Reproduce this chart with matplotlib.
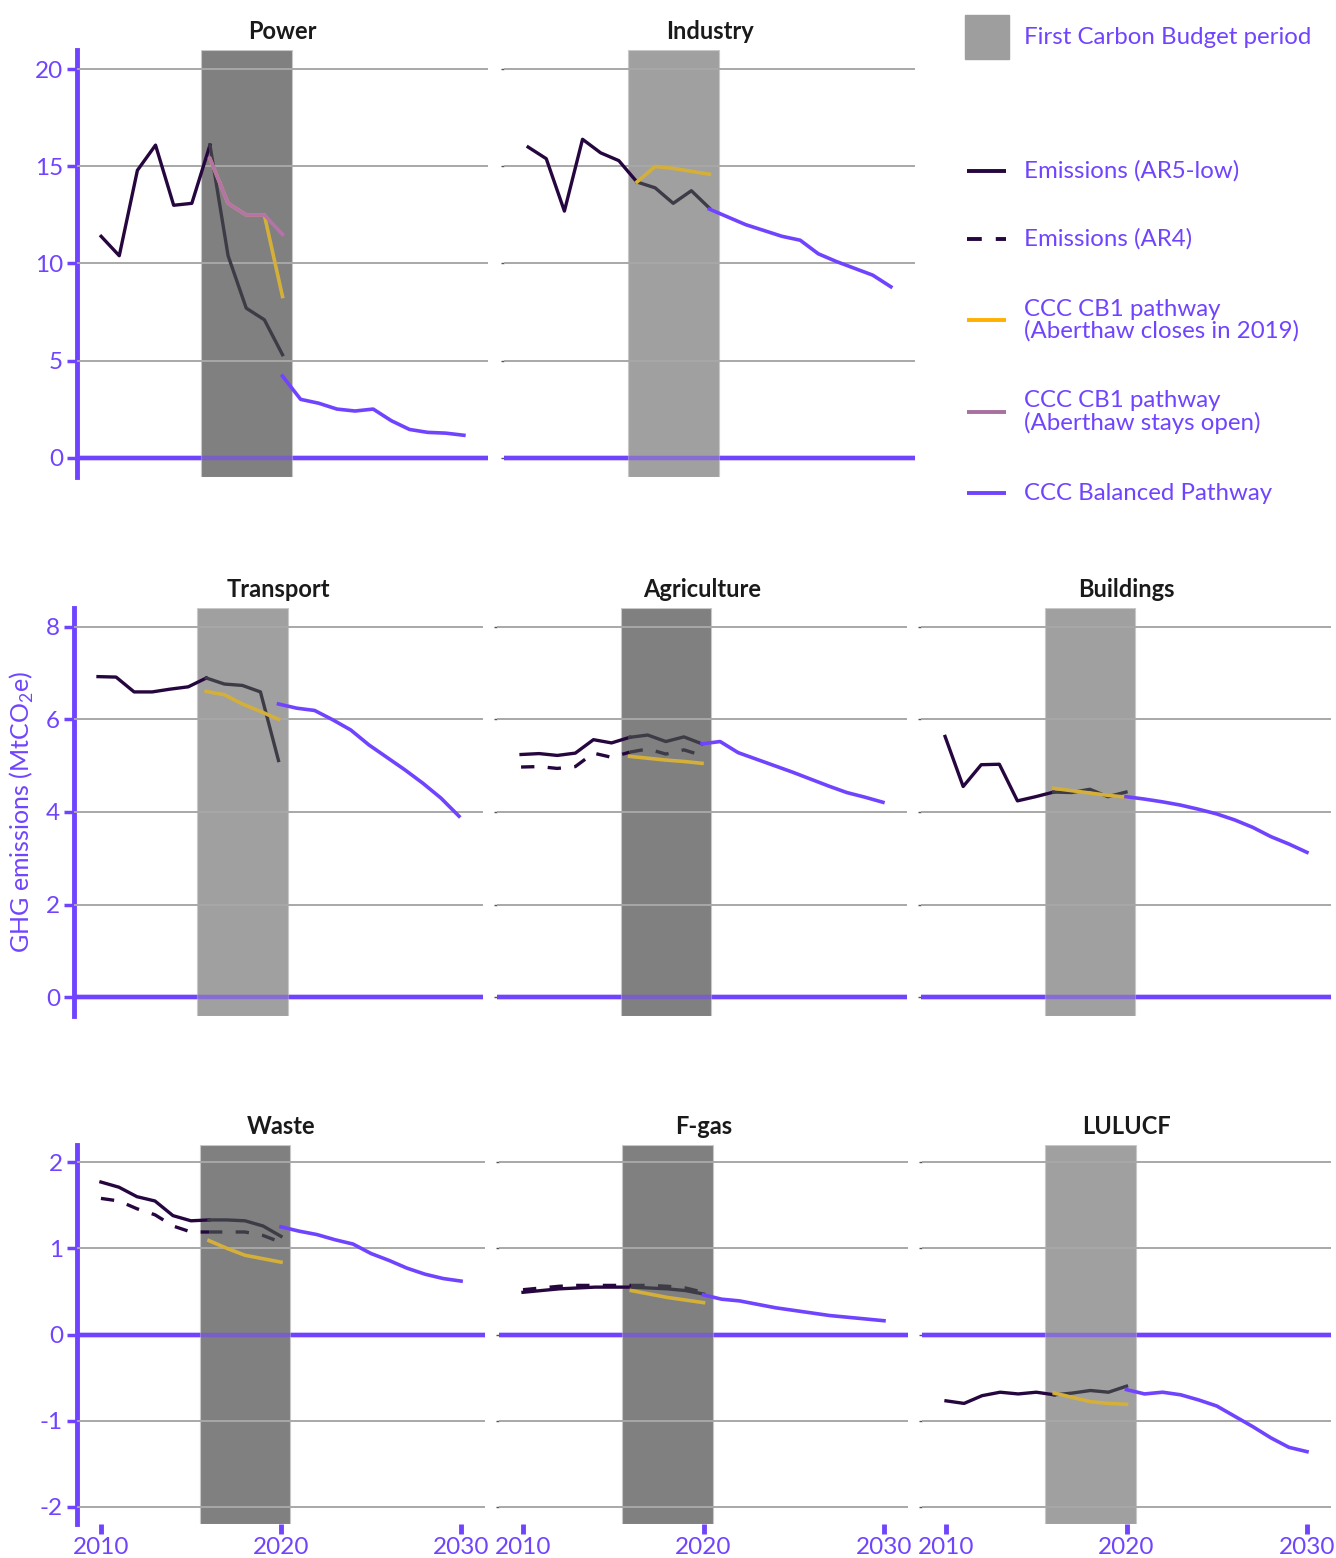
import matplotlib
matplotlib.use("Agg")
import matplotlib.pyplot as plt

plt.rcParams['font.family'] = ['Lato', 'DejaVu Sans']
plt.rcParams['mathtext.fontset'] = 'custom'
plt.rcParams['mathtext.rm'] = 'Lato'
plt.rcParams['axes.unicode_minus'] = False

# years
years_hist = list(range(2010, 2021))
years_cb1 = list(range(2016, 2021))
years_bp = list(range(2020, 2031))

# Power
power_ar5 = [11.4, 10.4, 14.8, 16.1, 13.0, 13.1, 16.1, 10.4, 7.7, 7.1, 5.3]
power_cb1_close = [15.4, 13.1, 12.5, 12.5, 8.3]
power_cb1_open = [15.4, 13.1, 12.5, 12.5, 11.5]
power_bp = [4.2, 3.0, 2.8, 2.5, 2.4, 2.5, 1.9, 1.45, 1.3, 1.26, 1.15]

# Industry
industry_ar5 = [16.0, 15.4, 12.7, 16.4, 15.7, 15.3, 14.2, 13.9, 13.1, 13.75, 12.85]
industry_cb1 = [14.2, 15.0, 14.9, 14.75, 14.6]
industry_bp = [12.8, 12.4, 12.0, 11.7, 11.4, 11.2, 10.5, 10.1, 9.75, 9.4, 8.8]

# Transport
transport_ar5 = [6.92, 6.91, 6.59, 6.59, 6.65, 6.70, 6.89, 6.76, 6.73, 6.59, 5.11]
transport_cb1 = [6.6, 6.53, 6.33, 6.17, 6.0]
transport_bp = [6.33, 6.24, 6.19, 5.99, 5.77, 5.45, 5.18, 4.91, 4.62, 4.30, 3.91]

# Agriculture
agriculture_ar5 = [5.24, 5.26, 5.22, 5.27, 5.56, 5.49, 5.61, 5.66, 5.52, 5.62, 5.47]
agriculture_ar4 = [4.97, 4.98, 4.94, 4.98, 5.27, 5.18, 5.29, 5.36, 5.25, 5.34, 5.22]
agriculture_cb1 = [5.2, 5.16, 5.12, 5.09, 5.05]
agriculture_bp = [5.47, 5.52, 5.28, 5.14, 5.0, 4.86, 4.71, 4.56, 4.42, 4.32, 4.21]

# Buildings
buildings_ar5 = [5.63, 4.55, 5.02, 5.03, 4.24, 4.33, 4.43, 4.42, 4.49, 4.33, 4.43]
buildings_cb1 = [4.51, 4.46, 4.41, 4.36, 4.32]
buildings_bp = [4.33, 4.28, 4.22, 4.15, 4.06, 3.96, 3.83, 3.67, 3.47, 3.31, 3.13]

# Waste
waste_ar5 = [1.77, 1.71, 1.60, 1.55, 1.38, 1.32, 1.33, 1.33, 1.32, 1.26, 1.14]
waste_ar4 = [1.58, 1.55, 1.46, 1.39, 1.26, 1.19, 1.19, 1.19, 1.19, 1.15, 1.07]
waste_cb1 = [1.09, 1.00, 0.92, 0.88, 0.84]
waste_bp = [1.25, 1.20, 1.16, 1.10, 1.05, 0.94, 0.86, 0.77, 0.70, 0.65, 0.62]

# F-gas
fgas_ar5 = [0.49, 0.51, 0.53, 0.54, 0.55, 0.55, 0.55, 0.54, 0.53, 0.51, 0.47]
fgas_ar4 = [0.52, 0.54, 0.56, 0.57, 0.57, 0.57, 0.57, 0.57, 0.56, 0.54, 0.49]
fgas_cb1 = [0.51, 0.47, 0.43, 0.40, 0.37]
fgas_bp = [0.46, 0.41, 0.39, 0.35, 0.31, 0.28, 0.25, 0.22, 0.20, 0.18, 0.16]

# LULUCF
lulucf_ar5 = [-0.77, -0.80, -0.71, -0.67, -0.69, -0.67, -0.70, -0.68, -0.65, -0.67, -0.60]
lulucf_cb1 = [-0.68, -0.73, -0.78, -0.80, -0.81]
lulucf_bp = [-0.64, -0.69, -0.67, -0.70, -0.76, -0.83, -0.95, -1.07, -1.20, -1.31, -1.36]

row_yticks = [[0, 5, 10, 15, 20], [0, 2, 4, 6, 8], [-2, -1, 0, 1, 2]]
row_ylim = [(-1.0, 21.0), (-0.4, 8.4), (-2.2, 2.2)]
xticks = [2010, 2020, 2030]

PURPLE = '#7044ff'
AR5_COL = '#26063f'
EM_GREY = '#3d3b45'
YELLOW = '#d4b03a'
PINK = '#b574a8'
DARK_SHADE = '#808080'
LIGHT_SHADE = '#a0a0a0'

W, H = 1336, 1558
fig = plt.figure(figsize=(W / 100, H / 100), dpi=100)


def px_axes(x0, x1, y0, y1):
    return fig.add_axes([x0 / W, 1 - y1 / H, (x1 - x0) / W, (y1 - y0) / H])


rows_y = [(50, 477), (608, 1016), (1145, 1524)]
cols_x = [[(77, 488), (504, 915)],
          [(74, 483), (497, 907), (921, 1331)],
          [(77, 485), (499, 908), (922, 1331)]]

panels = [
    ("Power", 0, 0, DARK_SHADE, power_ar5, None, [power_cb1_close], power_cb1_open, power_bp),
    ("Industry", 0, 1, LIGHT_SHADE, industry_ar5, None, [industry_cb1], None, industry_bp),
    ("Transport", 1, 0, LIGHT_SHADE, transport_ar5, None, [transport_cb1], None, transport_bp),
    ("Agriculture", 1, 1, DARK_SHADE, agriculture_ar5, agriculture_ar4, [agriculture_cb1], None, agriculture_bp),
    ("Buildings", 1, 2, LIGHT_SHADE, buildings_ar5, None, [buildings_cb1], None, buildings_bp),
    ("Waste", 2, 0, DARK_SHADE, waste_ar5, waste_ar4, [waste_cb1], None, waste_bp),
    ("F-gas", 2, 1, DARK_SHADE, fgas_ar5, fgas_ar4, [fgas_cb1], None, fgas_bp),
    ("LULUCF", 2, 2, LIGHT_SHADE, lulucf_ar5, None, [lulucf_cb1], None, lulucf_bp),
]

for name, r, c, shade, ar5, ar4, cb1s, cb1_open, bp in panels:
    x0, x1 = cols_x[r][c]
    y0, y1 = rows_y[r]
    ax = px_axes(x0, x1, y0, y1)
    ax.set_xlim(2008.67, 2031.33)
    ax.set_ylim(*row_ylim[r])
    for t in row_yticks[r]:
        if t == 0:
            ax.axhline(0, color=PURPLE, lw=3.2, zorder=1)
        else:
            ax.axhline(t, color='#a8a8a8', lw=1.4, zorder=3)
    ax.axvspan(2015.5, 2020.5, color=shade, zorder=2, lw=0.8, ec='#c8c8c8')
    ax.axhline(0, color=PURPLE, lw=3.2, alpha=0.55, zorder=3)

    # emissions: solid before CB1, grey within CB1
    ax.plot(years_hist[:7], ar5[:7], color=AR5_COL, lw=2.4, zorder=5)
    ax.plot(years_hist[6:], ar5[6:], color=EM_GREY, lw=2.4, zorder=5)
    if ar4 is not None:
        ax.plot(years_hist[:7], ar4[:7], color=AR5_COL, lw=2.4, ls=(0, (4, 4)), zorder=5)
        ax.plot(years_hist[6:], ar4[6:], color=EM_GREY, lw=2.4, ls=(0, (4, 4)), zorder=5)
    for cb in cb1s:
        ax.plot(years_cb1, cb, color=YELLOW, lw=2.6, zorder=6)
    if cb1_open is not None:
        ax.plot(years_cb1, cb1_open, color=PINK, lw=2.6, zorder=7)
    ax.plot(years_bp, bp, color=PURPLE, lw=2.6, zorder=6)

    ax.set_title(name, fontsize=17, fontweight='bold', color='#1a1a1a', pad=8)
    ax.set_facecolor('none')
    for s in ['top', 'right', 'bottom']:
        ax.spines[s].set_visible(False)
    ax.set_yticks(row_yticks[r])
    if c == 0:
        ax.spines['left'].set_color(PURPLE)
        ax.spines['left'].set_linewidth(3.5)
        ax.tick_params(axis='y', colors=PURPLE, length=7, width=2.5, labelsize=17.5, pad=3)
    else:
        ax.spines['left'].set_visible(False)
        ax.tick_params(axis='y', colors='#555555', length=2, width=1, labelleft=False)
    ax.set_xticks(xticks)
    if r == 2:
        ax.tick_params(axis='x', colors=PURPLE, length=7, width=3.5, labelsize=17.5, pad=2)
        for lab in ax.get_xticklabels():
            lab.set_color(PURPLE)
    else:
        ax.tick_params(axis='x', length=0, labelbottom=False)

fig.text(22 / W, 1 - 812 / H, "GHG emissions (MtCO$_2$e)", rotation=90, color=PURPLE,
         fontsize=18, ha='center', va='center')

# legend
lg = fig.add_axes([0, 0, 1, 1])
lg.set_xlim(0, W)
lg.set_ylim(H, 0)
lg.axis('off')
lg.add_patch(plt.Rectangle((965, 15), 44, 44, color='#9e9e9e'))
lg.text(1024, 37, "First Carbon Budget period", color=PURPLE, fontsize=17.3, va='center')
legend_lines = [
    (171, AR5_COL, '-', "Emissions (AR5-low)"),
    (239, AR5_COL, (0, (3.8, 3.6)), "Emissions (AR4)"),
    (320, '#ffb000', '-', "CCC CB1 pathway\n(Aberthaw closes in 2019)"),
    (412, '#a8709e', '-', "CCC CB1 pathway\n(Aberthaw stays open)"),
    (493, PURPLE, '-', "CCC Balanced Pathway"),
]
for y, col, ls, label in legend_lines:
    lg.plot([967, 1006], [y, y], color=col, ls=ls, lw=2.8, solid_capstyle='butt',
            dash_capstyle='butt')
    lg.text(1024, y, label, color=PURPLE, fontsize=17.3, va='center', linespacing=1.0)

fig.savefig("out.png", dpi=100)
